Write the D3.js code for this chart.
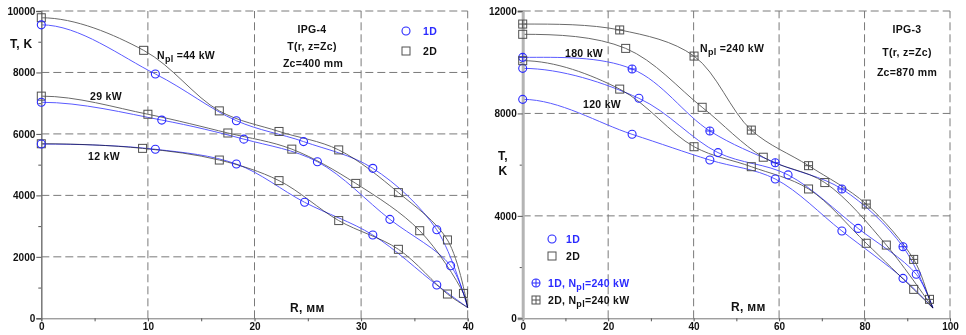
<!DOCTYPE html>
<html lang="en">
<head>
<meta charset="UTF-8">
<title>IPG-4 / IPG-3 temperature profiles</title>
<script src="https://d3js.org/d3.v7.min.js"></script>
<style>
  body { margin: 0; background: #fff; }
  svg text { font-family: "Liberation Sans", Arial, sans-serif; font-weight: bold; }
  .lines path { mix-blend-mode: multiply; }
</style>
</head>
<body>
<svg id="chart" width="966" height="335"></svg>
<script>
// ---- left panel: IPG-4, Zc=400 mm ----
const leftXTicks = [0, 10, 20, 30, 40];
const leftYTicks = [0, 2000, 4000, 6000, 8000, 10000];
const leftWall = [40, 350];   // all curves end at the wall

const r44_2D = [0, 9.6, 16.7, 22.3, 27.9, 33.5, 38.1];
const t44_2D = [9780, 8720, 6750, 6080, 5480, 4090, 2550];
const r44_1D = [0, 10.7, 18.3, 24.6, 31.1, 37.1];
const t44_1D = [9550, 7950, 6430, 5750, 4880, 2880];
const r29_2D = [0, 10.0, 17.5, 23.5, 29.5, 35.5, 39.6];
const t29_2D = [7230, 6640, 6030, 5505, 4390, 2850, 810];
const r29_1D = [0, 11.3, 19.0, 25.9, 32.7, 38.4];
const t29_1D = [7030, 6450, 5830, 5095, 3220, 1710];
const r12_2D = [0, 9.5, 16.7, 22.3, 27.9, 33.5, 38.1];
const t12_2D = [5680, 5530, 5150, 4480, 3180, 2245, 790];
const r12_1D = [0, 10.7, 18.3, 24.7, 31.1, 37.1];
const t12_1D = [5670, 5500, 5020, 3775, 2710, 1085];

// ---- right panel: IPG-3, Zc=870 mm ----
const rightXTicks = [0, 20, 40, 60, 80, 100];
const rightYTicks = [0, 4000, 8000, 12000];
const rightWall = [96, 400];

const r240_2D = [0, 22.7, 40.1, 53.5, 66.9, 80.4, 91.5, 95.2];
const t240_2D = [11490, 11260, 10240, 7350, 5960, 4460, 2300, 740];
const r240_1D = [0, 25.6, 43.8, 59.1, 74.7, 89.0];
const t240_1D = [10190, 9735, 7315, 6075, 5050, 2795];
const r180_2D = [0, 24.1, 42.0, 56.3, 70.7, 85.1];
const t180_2D = [11090, 10540, 8240, 6290, 5300, 2860];
const r180_1D = [0, 27.2, 45.7, 62.1, 78.5, 92.1];
const t180_1D = [9760, 8590, 6470, 5600, 3510, 1720];
const r120_2D = [0, 22.7, 40.1, 53.5, 66.9, 80.4, 91.5];
const t120_2D = [10060, 8950, 6700, 5920, 5050, 2930, 1130];
const r120_1D = [0, 25.6, 43.8, 59.1, 74.7, 89.0];
const t120_1D = [8550, 7185, 6180, 5440, 3410, 1560];

const BLUE_LINE = '#5a5aff', GRAY_LINE = '#6a6a6a';
const BLUE_MARK = '#2a2aff', GRAY_MARK = '#505050';

const svg = d3.select('#chart');

function zip(rs, ts) { return rs.map((r, i) => [r, ts[i]]); }

function drawMarker(g, type, x, y) {
  const color = type.startsWith('circle') ? BLUE_MARK : GRAY_MARK;
  if (type.startsWith('circle')) {
    g.append('circle').attr('cx', x).attr('cy', y).attr('r', 4)
      .attr('fill', 'none').attr('stroke', color).attr('stroke-width', 1.1);
  } else {
    g.append('rect').attr('x', x - 4).attr('y', y - 4).attr('width', 8).attr('height', 8)
      .attr('fill', 'none').attr('stroke', color).attr('stroke-width', 1);
  }
  if (type.endsWith('Plus')) {
    g.append('line').attr('x1', x - 4).attr('x2', x + 4).attr('y1', y).attr('y2', y)
      .attr('stroke', color).attr('stroke-width', 1);
    g.append('line').attr('x1', x).attr('x2', x).attr('y1', y - 4).attr('y2', y + 4)
      .attr('stroke', color).attr('stroke-width', 1);
  }
}

let clipId = 0;
function drawPanel(p) {
  const x = d3.scaleLinear().domain(p.xDomain).range(p.xRange);
  const y = d3.scaleLinear().domain(p.yDomain).range(p.yRange);
  const g = svg.append('g');

  // dashed grid
  const grid = g.append('g').attr('stroke', '#7a7a7a').attr('stroke-width', 1)
    .attr('stroke-dasharray', '8,4');
  p.yTicks.filter(v => v > 0).forEach(v => {
    grid.append('line').attr('x1', x(p.xDomain[0])).attr('x2', x(p.xDomain[1]))
      .attr('y1', y(v)).attr('y2', y(v));
  });
  p.xTicks.filter(v => v > 0).forEach(v => {
    grid.append('line').attr('y1', y(p.yDomain[0])).attr('y2', y(p.yDomain[1]))
      .attr('x1', x(v)).attr('x2', x(v));
  });

  // axes
  const yAxis = g.append('g').attr('transform', `translate(${x(p.xDomain[0])},0)`)
    .call(d3.axisLeft(y).tickValues(p.yTicks).tickSize(5).tickPadding(1).tickFormat(d3.format('d')));
  g.append('g').attr('transform', `translate(${x(p.xDomain[0])},0)`)
    .call(d3.axisLeft(y).tickValues(p.yMinor).tickSize(3).tickFormat(''))
    .call(a => a.select('.domain').remove());
  const xAxis = g.append('g').attr('transform', `translate(0,${y(p.yDomain[0])})`)
    .call(d3.axisBottom(x).tickValues(p.xTicks).tickSize(3).tickPadding(2));
  g.append('g').attr('transform', `translate(0,${y(p.yDomain[0])})`)
    .call(d3.axisBottom(x).tickValues(p.xMinor).tickSize(3).tickFormat(''))
    .call(a => a.select('.domain').remove());
  g.selectAll('.tick line').attr('stroke', '#555');
  g.selectAll('.tick text').attr('font-size', 10).attr('fill', '#111');
  xAxis.select('.domain').attr('stroke', '#777');

  // curves: symmetric about the axis r=0, so the first point is mirrored to r<0
  const id = 'clip' + (clipId++);
  g.append('clipPath').attr('id', id).append('rect')
    .attr('x', x(p.xDomain[0])).attr('y', y(p.yDomain[1]) - 2)
    .attr('width', x(p.xDomain[1]) - x(p.xDomain[0]) + 2)
    .attr('height', y(p.yDomain[0]) - y(p.yDomain[1]) + 2);
  const line = d3.line().x(d => x(d[0])).y(d => y(d[1])).curve(d3.curveCatmullRom.alpha(0.5));
  const lines = g.append('g').attr('class', 'lines').attr('clip-path', `url(#${id})`);
  p.series.forEach(s => {
    const pts = [[-s.pts[1][0], s.pts[1][1]]].concat(s.pts, [p.wall]);
    lines.append('path').datum(pts)
      .attr('d', line).attr('fill', 'none')
      .attr('stroke', s.marker.startsWith('circle') ? BLUE_LINE : GRAY_LINE)
      .attr('stroke-width', 1);
  });
  yAxis.raise();
  yAxis.select('.domain').attr('stroke', p.yAxisColor).attr('stroke-width', p.yAxisWidth);
  const marks = g.append('g');
  p.series.forEach(s => s.pts.forEach(d => drawMarker(marks, s.marker, x(d[0]), y(d[1]))));
  return g;
}

function label(g, txt, xPos, yPos, opts = {}) {
  const t = g.append('text').attr('x', xPos).attr('y', yPos)
    .attr('font-size', opts.size || 10.5).attr('fill', opts.color || '#111')
    .attr('text-anchor', opts.anchor || 'start')
    .attr('letter-spacing', opts.ls || 0.3);
  return t.text(txt);
}

function npl(g, before, after, xPos, yPos, color) {
  const t = g.append('text').attr('x', xPos).attr('y', yPos)
    .attr('font-size', 10.5).attr('fill', color || '#111').attr('letter-spacing', 0.3);
  t.append('tspan').text(before);
  t.append('tspan').attr('dy', 3).attr('font-size', 9).text('pl');
  t.append('tspan').attr('dy', -3).text(after);
}

// left panel
const left = drawPanel({
  xDomain: [0, 40], xRange: [41.3, 467.7],
  yDomain: [0, 10000], yRange: [318.3, 11],
  xTicks: leftXTicks, yTicks: leftYTicks,
  xMinor: [5, 15, 25, 35], yMinor: [1000, 3000, 5000, 7000, 9000],
  yAxisColor: '#777', yAxisWidth: 1.5,
  wall: leftWall,
  series: [
    { pts: zip(r44_2D, t44_2D), marker: 'square' },
    { pts: zip(r44_1D, t44_1D), marker: 'circle' },
    { pts: zip(r29_2D, t29_2D), marker: 'square' },
    { pts: zip(r29_1D, t29_1D), marker: 'circle' },
    { pts: zip(r12_2D, t12_2D), marker: 'square' },
    { pts: zip(r12_1D, t12_1D), marker: 'circle' }
  ]
});
label(left, 'T, K', 10, 48, { size: 12 });
label(left, 'R, мм', 290, 312, { size: 12 });
npl(left, 'N', ' =44 kW', 157, 59);
label(left, '29 kW', 90, 100);
label(left, '12 kW', 88, 160);
label(left, 'IPG-4', 312, 33, { anchor: 'middle' });
label(left, 'T(r, z=Zc)', 312, 50, { anchor: 'middle' });
label(left, 'Zc=400 mm', 313, 67, { anchor: 'middle' });
drawMarker(left, 'circle', 406, 31);
label(left, '1D', 423, 35, { color: '#2a2aff' });
drawMarker(left, 'square', 406, 51);
label(left, '2D', 423, 55);

// right panel
const right = drawPanel({
  xDomain: [0, 100], xRange: [522.7, 950],
  yDomain: [0, 12000], yRange: [318.3, 11],
  xTicks: rightXTicks, yTicks: rightYTicks,
  xMinor: [10, 30, 50, 70, 90], yMinor: [2000, 6000, 10000],
  yAxisColor: '#b4b4b4', yAxisWidth: 3,
  wall: rightWall,
  series: [
    { pts: zip(r240_2D, t240_2D), marker: 'squarePlus' },
    { pts: zip(r240_1D, t240_1D), marker: 'circlePlus' },
    { pts: zip(r180_2D, t180_2D), marker: 'square' },
    { pts: zip(r180_1D, t180_1D), marker: 'circle' },
    { pts: zip(r120_2D, t120_2D), marker: 'square' },
    { pts: zip(r120_1D, t120_1D), marker: 'circle' }
  ]
});
label(right, 'T,', 503, 160, { size: 12, anchor: 'middle' });
label(right, 'K', 503, 175, { size: 12, anchor: 'middle' });
label(right, 'R, мм', 731, 311, { size: 12 });
label(right, '180 kW', 565, 57);
label(right, '120 kW', 583, 108);
npl(right, 'N', ' =240 kW', 700, 52);
label(right, 'IPG-3', 907, 33, { anchor: 'middle' });
label(right, 'T(r, z=Zc)', 907, 56, { anchor: 'middle' });
label(right, 'Zc=870 mm', 907, 76, { anchor: 'middle' });
drawMarker(right, 'circle', 552, 239);
label(right, '1D', 566, 243, { color: '#2a2aff' });
drawMarker(right, 'square', 552, 256);
label(right, '2D', 566, 260);
drawMarker(right, 'circlePlus', 536, 283);
npl(right, '1D, N', '=240 kW', 548, 287, '#2a2aff');
drawMarker(right, 'squarePlus', 536, 300);
npl(right, '2D, N', '=240 kW', 548, 304);
</script>
</body>
</html>
